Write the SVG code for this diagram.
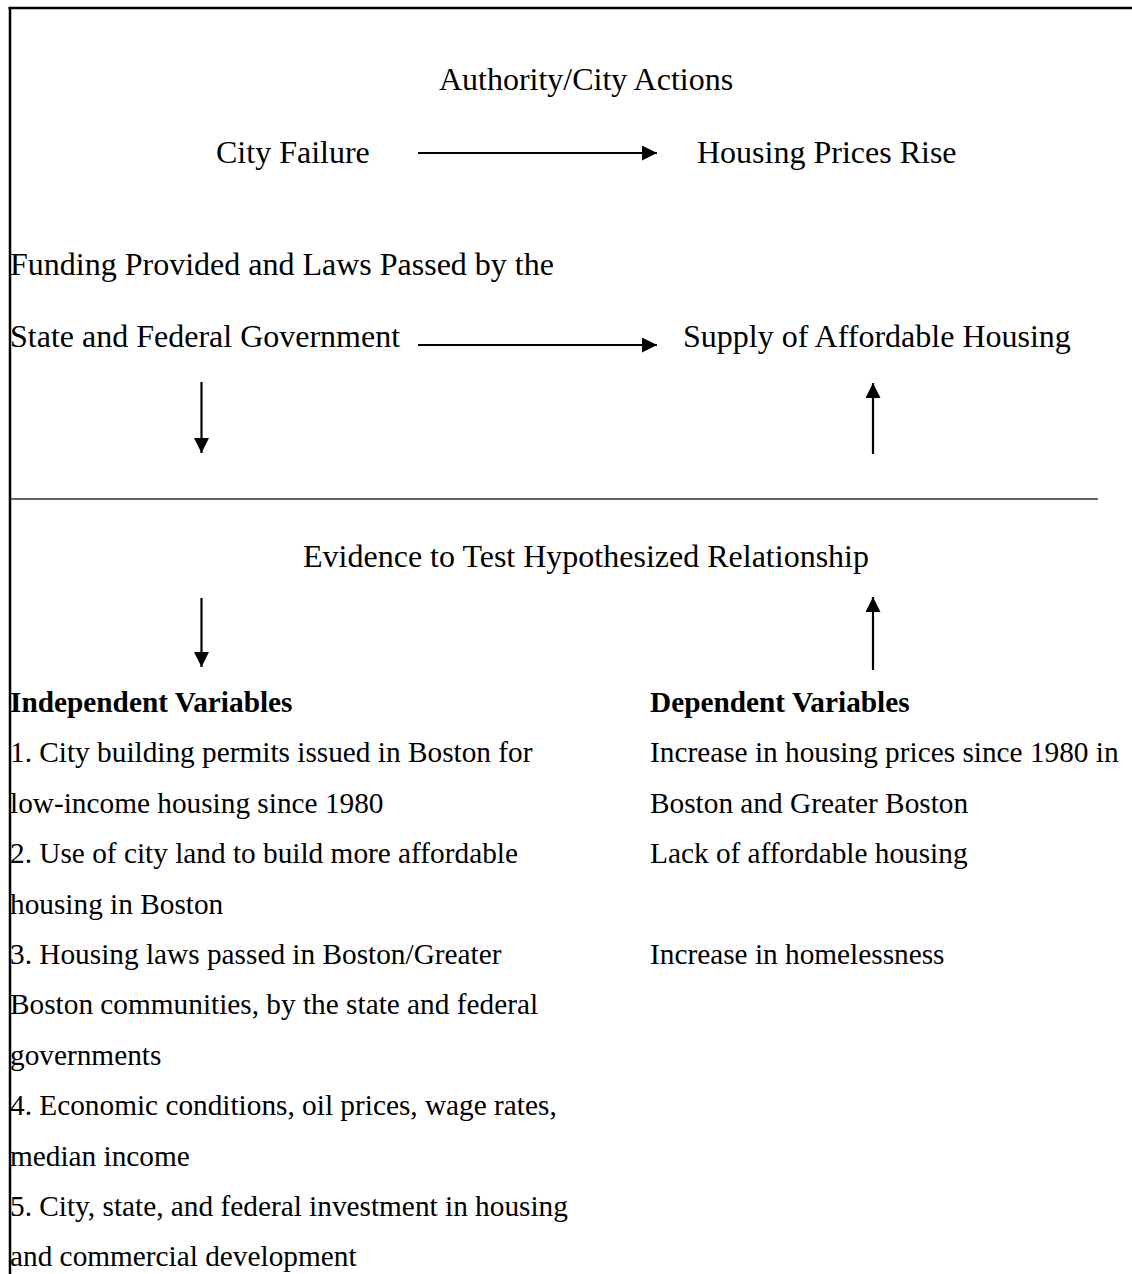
<svg xmlns="http://www.w3.org/2000/svg" width="1132" height="1274" viewBox="0 0 1132 1274">
<style>
  text { font-family: "Liberation Serif", "Times New Roman", serif; fill: #000; }
  .big { font-size: 32px; }
  .list { font-size: 29.3px; }
  .bold { font-weight: bold; }
  .mid { text-anchor: middle; }
  .frame { stroke: #000; stroke-width: 2.5; fill: none; }
  .conn { stroke: #000; stroke-width: 2.2; fill: none; marker-end: url(#head); }
</style>
<defs>
  <marker id="head" viewBox="0 0 15 15" refX="15" refY="7.5" markerWidth="15" markerHeight="15" markerUnits="userSpaceOnUse" orient="auto">
    <path d="M0,0 L15,7.5 L0,15 Z" fill="#000"/>
  </marker>
</defs>
<rect width="1132" height="1274" fill="#fff"/>
<g id="frame">
  <line class="frame" x1="8.5" y1="8" x2="1132" y2="8"/>
  <line class="frame" x1="10" y1="7" x2="10" y2="1274"/>
  <line x1="10" y1="499" x2="1098" y2="499" stroke="#333" stroke-width="1.3"/>
</g>
<g id="title-actions"><text class="big mid" x="586" y="90">Authority/City Actions</text></g>
<g id="city-failure"><text class="big" x="216" y="163">City Failure</text></g>
<g id="housing-prices"><text class="big" x="697" y="163">Housing Prices Rise</text></g>
<g id="funding">
  <text class="big" x="10" y="275">Funding Provided and Laws Passed by the</text>
  <text class="big" x="10" y="347">State and Federal Government</text>
</g>
<g id="supply"><text class="big" x="683" y="347">Supply of Affordable Housing</text></g>
<g id="evidence"><text class="big mid" x="586" y="567">Evidence to Test Hypothesized Relationship</text></g>
<g id="independent">
  <text class="list bold" x="10" y="712">Independent Variables</text>
  <text class="list" x="10" y="762.4">1. City building permits issued in Boston for</text>
  <text class="list" x="10" y="812.8">low-income housing since 1980</text>
  <text class="list" x="10" y="863.2">2. Use of city land to build more affordable</text>
  <text class="list" x="10" y="913.6">housing in Boston</text>
  <text class="list" x="10" y="964">3. Housing laws passed in Boston/Greater</text>
  <text class="list" x="10" y="1014.4">Boston communities, by the state and federal</text>
  <text class="list" x="10" y="1064.8">governments</text>
  <text class="list" x="10" y="1115.2">4. Economic conditions, oil prices, wage rates,</text>
  <text class="list" x="10" y="1165.6">median income</text>
  <text class="list" x="10" y="1216">5. City, state, and federal investment in housing</text>
  <text class="list" x="10" y="1266.4">and commercial development</text>
</g>
<g id="dependent">
  <text class="list bold" x="650" y="712">Dependent Variables</text>
  <text class="list" x="650" y="762.4">Increase in housing prices since 1980 in</text>
  <text class="list" x="650" y="812.8">Boston and Greater Boston</text>
  <text class="list" x="650" y="863.2">Lack of affordable housing</text>
  <text class="list" x="650" y="964">Increase in homelessness</text>
</g>
<g id="connectors">
  <line class="conn" x1="418" y1="153" x2="657" y2="153"/>
  <line class="conn" x1="418" y1="345" x2="657" y2="345"/>
  <line class="conn" x1="201.5" y1="382" x2="201.5" y2="453"/>
  <line class="conn" x1="873" y1="454" x2="873" y2="383"/>
  <line class="conn" x1="201.5" y1="598" x2="201.5" y2="667"/>
  <line class="conn" x1="873" y1="670" x2="873" y2="597"/>
</g>
</svg>
